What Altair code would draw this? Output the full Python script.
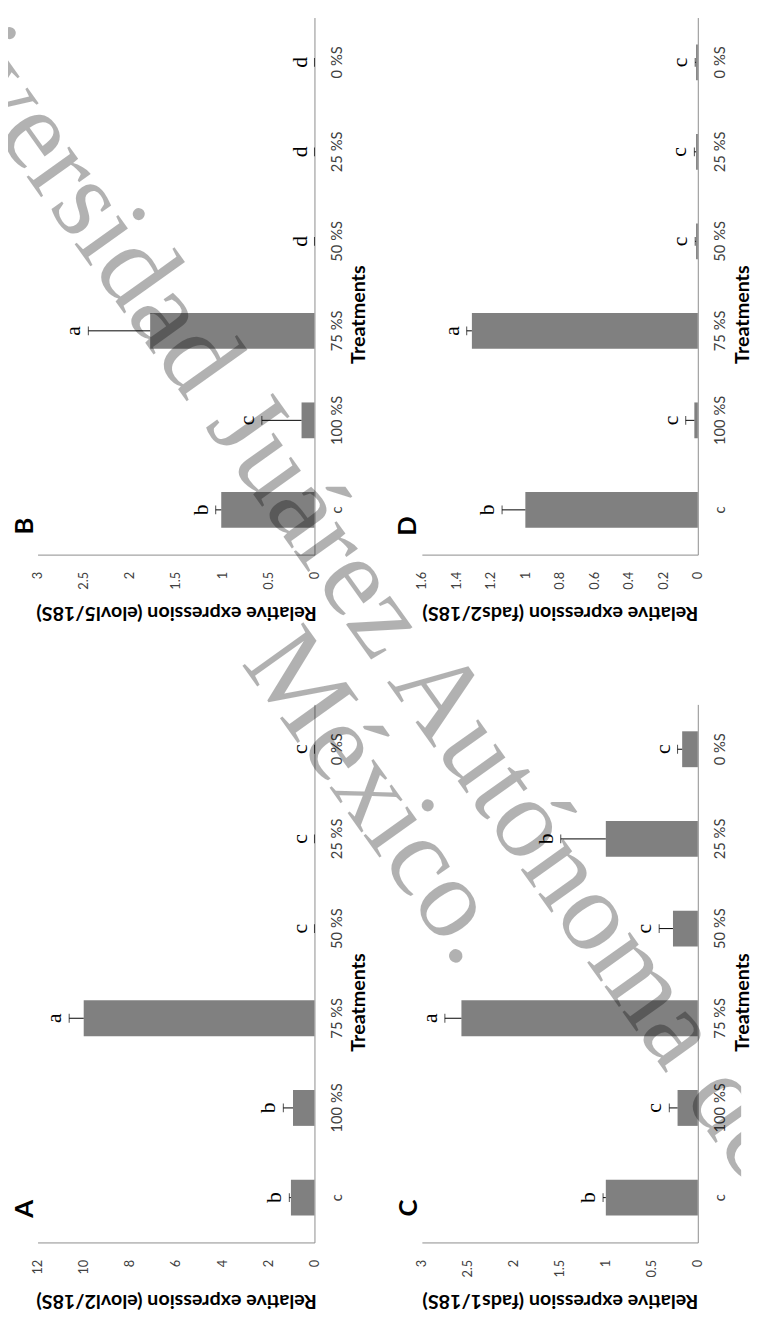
import altair as alt
import pandas as pd

# ---------------- data ----------------
cats = ["c", "100 %S", "75 %S", "50 %S", "25 %S", "0 %S"]
cat_order = cats[::-1]  # top-to-bottom on the rotated page

# A: elovl2
a_mean = [1.02, 0.93, 10.0, 0.0, 0.0, 0.0]
a_err = [0.07, 0.42, 0.63, 0.0, 0.0, 0.0]
a_lab = ["b", "b", "a", "c", "c", "c"]
# B: elovl5
b_mean = [1.01, 0.14, 1.78, 0.0, 0.0, 0.0]
b_err = [0.06, 0.43, 0.67, 0.0, 0.0, 0.0]
b_lab = ["b", "c", "a", "d", "d", "d"]
# C: fads1
c_mean = [1.0, 0.22, 2.57, 0.27, 1.0, 0.17]
c_err = [0.03, 0.09, 0.18, 0.15, 0.49, 0.05]
c_lab = ["b", "c", "a", "c", "b", "c"]
# D: fads2
d_mean = [1.0, 0.02, 1.31, 0.01, 0.01, 0.01]
d_err = [0.135, 0.05, 0.03, 0.005, 0.01, 0.005]
d_lab = ["b", "c", "a", "c", "c", "c"]

a_ticks = [0, 2, 4, 6, 8, 10, 12]
b_ticks = [0, 0.5, 1, 1.5, 2, 2.5, 3]
c_ticks = [0, 0.5, 1, 1.5, 2, 2.5, 3]
d_ticks = [0, 0.2, 0.4, 0.6, 0.8, 1, 1.2, 1.4, 1.6]

wm_line1 = "Universidad Juárez Autónoma de"
wm_line2 = "México."

# ---------------- layout ----------------
W, H = 744, 1308
LEFT_X = [311, 30]
RIGHT_X = [700, 420]
TOP_Y = [0, 545]
BOT_Y = [697, 1243]

BAR = "#808080"
AXIS = "#8c8c8c"
FONT = "Lato"


def panel(means, errs, labs, vmax, ticks, xr, yr, title, letter, letter_xy, treat_y):
    df = pd.DataFrame({"cat": cats, "v": means, "err": errs, "lab": labs})
    df["top"] = df["v"] + df["err"]
    xsc = alt.Scale(domain=[0, vmax], range=xr, nice=False, zero=True)
    ysc = alt.Scale(domain=cat_order, range=yr, paddingInner=0.6, paddingOuter=0.3)
    xax = alt.Axis(
        orient="bottom", offset=yr[1] - H, values=ticks, format=".1~f",
        labelAngle=270, labelAlign="right", labelBaseline="middle",
        labelPadding=17, labelFlush=False, labelOverlap=False,
        labelFontSize=13, labelColor="#404040", labelFont=FONT,
        ticks=False, grid=False, domainColor=AXIS, domainWidth=1,
        title=title, titleAngle=180, titleY=59, titleBaseline="middle",
        titleFontSize=20, titleFontWeight="bold", titleFont=FONT, titleColor="black",
    )
    yax = alt.Axis(
        orient="right", offset=xr[0] - W,
        labelAngle=270, labelAlign="center", labelBaseline="top",
        labelPadding=15, labelOverlap=False, labelFontSize=15,
        labelColor="#404040", labelFont=FONT,
        ticks=False, grid=False, domainColor=AXIS, domainWidth=1,
        title="Treatments", titleAngle=270, titleX=45, titleY=treat_y,
        titleBaseline="middle", titleAlign="center",
        titleFontSize=20, titleFontWeight="bold", titleFont=FONT, titleColor="black",
    )

    def X(f):
        return alt.X(f, type="quantitative", scale=xsc, axis=xax)

    Y = alt.Y("cat:N", scale=ysc, axis=yax, sort=cat_order)
    base = alt.Chart(df)
    bars = base.mark_bar(color=BAR).encode(x=X("v"), y=Y)
    rule = base.mark_rule(color="black", strokeWidth=1).encode(x=X("v"), x2="top", y=Y)
    cap = base.mark_tick(color="black", thickness=1, size=9).encode(x=X("top"), y=Y)
    txt = base.mark_text(
        font="Liberation Serif", fontSize=22, angle=270, align="center",
        baseline="alphabetic", dy=-8, color="black",
    ).encode(x=X("top"), y=Y, text="lab")
    lbl = alt.Chart(pd.DataFrame({"t": [letter]})).mark_text(
        font=FONT, fontSize=26, fontWeight="bold", angle=270, align="center",
        baseline="middle", color="black",
    ).encode(text="t", x=alt.value(letter_xy[0]), y=alt.value(letter_xy[1]))
    return alt.layer(bars, rule, cap, txt, lbl)


pB = panel(b_mean, b_err, b_lab, 3, b_ticks, LEFT_X, TOP_Y,
           "Relative expression (elovl5/18S)", "B", (17, 516), 301)
pD = panel(d_mean, d_err, d_lab, 1.6, d_ticks, RIGHT_X, TOP_Y,
           "Relative expression (fads2/18S)", "D", (406, 516), 301)
pA = panel(a_mean, a_err, a_lab, 12, a_ticks, LEFT_X, BOT_Y,
           "Relative expression (elovl2/18S)", "A", (17, 1209), 999)
pC = panel(c_mean, c_err, c_lab, 3, c_ticks, RIGHT_X, BOT_Y,
           "Relative expression (fads1/18S)", "C", (407, 1208), 999)


def watermark(text, x, y):
    return alt.Chart(pd.DataFrame({"t": [text]})).mark_text(
        font="Liberation Serif", fontSize=116, angle=54.5, align="left",
        baseline="alphabetic", color="black", opacity=0.3, clip=True,
    ).encode(text="t", x=alt.value(x), y=alt.value(y))


wm1 = watermark(wm_line1, -147, -71)
wm2 = watermark(wm_line2, 236, 655)

chart = (
    alt.layer(pB, pD, pA, pC, wm1, wm2)
    .resolve_scale(x="independent", y="independent")
    .properties(width=W, height=H, padding=0)
    .configure_view(stroke=None)
)

chart.save("out.html", embed_options={"renderer": "svg", "actions": False})
